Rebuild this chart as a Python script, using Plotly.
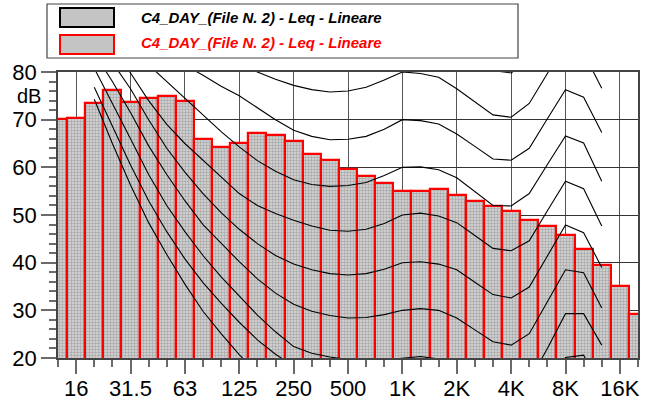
import plotly.graph_objects as go

# ---------------- data ----------------
bands = ["12.5", "16", "20", "25", "31.5", "40", "50", "63", "80", "100", "125", "160",
         "200", "250", "315", "400", "500", "630", "800", "1K", "1.25K", "1.6K", "2K",
         "2.5K", "3.15K", "4K", "5K", "6.3K", "8K", "10K", "12.5K", "16K", "20K"]
leq_db = [70.1, 70.4, 73.5, 76.2, 73.7, 74.5, 74.9, 73.9, 65.9, 64.2, 65.1, 67.2,
          66.8, 65.6, 62.8, 61.6, 59.7, 58.1, 56.7, 55.1, 55.0, 55.5, 54.1,
          52.9, 51.9, 50.8, 49.0, 47.7, 45.9, 42.9, 39.6, 35.2, 29.3]

# isophone curves (20 Hz ... 12.5 kHz)
iso_bands = bands[2:31]
maf = [74.3, 65.0, 56.3, 48.4, 41.7, 35.5, 29.8, 25.1, 20.7, 16.8, 13.8, 11.2, 8.9, 7.2, 6.0,
       5.0, 4.4, 4.2, 3.7, 2.6, 1.0, -1.2, -3.6, -3.9, -1.1, 6.6, 15.3, 16.4, 11.6]
phon10 = [76.8, 68.5, 60.5, 53.0, 46.5, 40.8, 35.8, 31.5, 27.5, 23.8, 20.8, 18.3, 16.0, 14.2, 12.8,
          11.6, 10.7, 10.0, 10.2, 9.7, 8.2, 5.7, 3.2, 2.8, 5.2, 12.6, 20.1, 20.6, 13.5]
phon20 = [80.8, 73.5, 66.0, 58.5, 52.0, 46.5, 41.5, 37.0, 33.0, 29.0, 25.5, 22.4, 21.0, 20.2, 19.7,
          19.5, 19.6, 20.0, 20.3, 19.8, 18.3, 15.8, 13.3, 12.8, 15.2, 22.0, 29.3, 29.3, 22.7]
phon30 = [84.0, 78.0, 71.5, 64.5, 58.5, 53.0, 48.0, 44.0, 40.2, 36.6, 33.6, 31.3, 29.8, 28.9, 28.4,
          28.5, 29.1, 30.0, 30.35, 30.0, 28.4, 25.9, 23.4, 22.7, 25.1, 31.8, 38.5, 37.9, 30.5]
phon40 = [87.5, 82.0, 76.5, 70.0, 64.0, 59.0, 54.5, 50.5, 47.0, 44.0, 41.5, 39.7, 38.5, 37.7, 37.4,
          37.7, 38.6, 40.0, 40.2, 39.7, 38.5, 35.9, 33.3, 32.6, 34.9, 41.4, 47.9, 46.3, 39.0]
phon50 = [91.0, 85.5, 79.8, 74.0, 69.0, 65.0, 61.5, 58.0, 54.5, 52.0, 50.3, 48.9, 47.7, 46.8, 46.6,
          47.0, 48.2, 50.0, 50.4, 49.8, 48.4, 45.7, 43.0, 42.5, 44.6, 50.9, 57.1, 55.5, 47.7]
phon60 = [95.0, 89.5, 85.0, 81.5, 78.0, 74.5, 71.0, 67.5, 64.3, 61.4, 59.2, 57.4, 56.4, 56.0, 56.2,
          56.8, 58.3, 60.0, 60.1, 59.5, 57.8, 54.9, 52.0, 51.9, 54.5, 60.6, 66.6, 65.1, 57.1]
phon70 = [99.0, 95.0, 91.0, 87.0, 84.0, 81.5, 79.3, 77.0, 75.0, 72.5, 70.0, 67.8, 66.5, 65.8, 65.9,
          66.5, 68.0, 70.0, 69.8, 69.1, 67.0, 64.4, 61.75, 61.5, 64.0, 70.2, 76.3, 74.7, 67.3]
phon80 = [103.0, 99.0, 96.0, 93.0, 90.5, 88.0, 86.0, 83.5, 81.8, 80.0, 78.5, 77.2, 76.3, 75.8, 76.0,
          76.8, 78.3, 80.0, 79.7, 78.9, 76.5, 73.8, 71.0, 70.5, 73.4, 79.7, 86.0, 84.0, 76.6]
phon90 = [107.0, 104.0, 101.0, 98.5, 96.5, 94.5, 93.0, 91.5, 90.5, 89.5, 88.5, 87.5, 86.5, 86.0, 86.0,
          86.8, 88.3, 90.0, 89.7, 88.8, 86.5, 83.0, 80.3, 79.8, 82.5, 89.0, 95.0, 93.0, 86.0]

octave_labels = ["16", "31.5", "63", "125", "250", "500", "1K", "2K", "4K", "8K", "16K"]
y_ticks = [20, 30, 40, 50, 60, 70, 80]
series_name = "C4_DAY_(File N. 2) - Leq - Lineare"

# ---------------- figure ----------------
W, H = 648, 403
ML, MR, MT, MB = 58, 10, 72, 45
FONT = "Liberation Sans, Arial, sans-serif"

pos = {b: i for i, b in enumerate(bands)}
xb = [pos[b] for b in bands]
xi = [pos[b] for b in iso_bands]

fig = go.Figure()

bar_fill = dict(shape=".", fgcolor="#7a7a7a", bgcolor="#d8d8d8", size=3, solidity=0.5)
fig.add_trace(go.Bar(x=xb, y=leq_db, width=1.0, name=series_name,
                     marker=dict(color="#c0c0c0", pattern=bar_fill,
                                 line=dict(color="black", width=2)),
                     showlegend=False))
fig.add_trace(go.Bar(x=xb, y=leq_db, width=1.0, name=series_name,
                     marker=dict(color="#c0c0c0", pattern=bar_fill,
                                 line=dict(color="#ff0000", width=2.2)),
                     showlegend=False))

for curve in [maf, phon10, phon20, phon30, phon40, phon50, phon60, phon70, phon80, phon90]:
    fig.add_trace(go.Scatter(x=xi, y=curve, mode="lines",
                             line=dict(color="black", width=1.1),
                             hoverinfo="skip", showlegend=False))

octave_pos = [pos[b] for b in octave_labels]
minor_pos = [p for p in xb if p not in octave_pos]

fig.update_layout(
    width=W, height=H, margin=dict(l=ML, r=MR, t=MT, b=MB, autoexpand=False),
    paper_bgcolor="white", plot_bgcolor="white",
    barmode="overlay", bargap=0,
    font=dict(family=FONT, color="black"),
    xaxis=dict(range=[0, len(bands) - 1], tickmode="array", tickvals=octave_pos,
               ticktext=octave_labels, ticks="outside", ticklen=14, tickwidth=1.5,
               tickcolor="#6a6a6a", showgrid=True, gridcolor="#555555", gridwidth=1,
               showline=True, linecolor="#444444", linewidth=1.5, mirror=True,
               zeroline=False, automargin=False, ticklabelstandoff=-4,
               tickfont=dict(size=22, family=FONT),
               minor=dict(tickmode="array", tickvals=minor_pos, ticks="outside",
                          ticklen=7, tickwidth=1.5, tickcolor="#6a6a6a", showgrid=False)),
    yaxis=dict(range=[20, 80], tickmode="array", tickvals=y_ticks, ticks="outside",
               ticklen=15, tickwidth=1.5, tickcolor="#6a6a6a", showgrid=True,
               gridcolor="#333333", gridwidth=1, showline=True, linecolor="#444444",
               linewidth=1.5, mirror=True, zeroline=False, automargin=False,
               tickfont=dict(size=22, family=FONT),
               minor=dict(dtick=2, tick0=20, ticks="outside", ticklen=7, tickwidth=1.5,
                          tickcolor="#6a6a6a", showgrid=False)),
)

pw, ph = W - ML - MR, H - MT - MB


def px_x(v):
    return (v - ML) / pw


def px_y(v):
    return (H - MB - v) / ph


shapes = [
    dict(type="rect", xref="paper", yref="paper", x0=px_x(47), x1=px_x(518),
         y0=px_y(58), y1=px_y(4), line=dict(color="#444444", width=1.2), fillcolor="white"),
    dict(type="rect", xref="paper", yref="paper", x0=px_x(60), x1=px_x(114),
         y0=px_y(27), y1=px_y(8), line=dict(color="black", width=2), fillcolor="#c4c4c4"),
    dict(type="rect", xref="paper", yref="paper", x0=px_x(60), x1=px_x(114),
         y0=px_y(54), y1=px_y(35), line=dict(color="#ff0000", width=2), fillcolor="#c4c4c4"),
]
fig.update_layout(shapes=shapes)

fig.add_annotation(xref="paper", yref="paper", x=px_x(139), y=px_y(17), xanchor="left",
                   yanchor="middle", showarrow=False,
                   text="<b><i>" + series_name + "</i></b>",
                   font=dict(size=15, color="black", family=FONT))
fig.add_annotation(xref="paper", yref="paper", x=px_x(139), y=px_y(43), xanchor="left",
                   yanchor="middle", showarrow=False,
                   text="<b><i>" + series_name + "</i></b>",
                   font=dict(size=15, color="#ff0000", family=FONT))
fig.add_annotation(xref="paper", yref="paper", x=px_x(43), y=px_y(96), xanchor="right",
                   yanchor="middle", showarrow=False, text="dB",
                   font=dict(size=20, color="black", family=FONT))

fig.write_html("out.html", config={"displayModeBar": False},
               post_script="document.body.style.margin='0px';document.body.style.padding='0px';")
